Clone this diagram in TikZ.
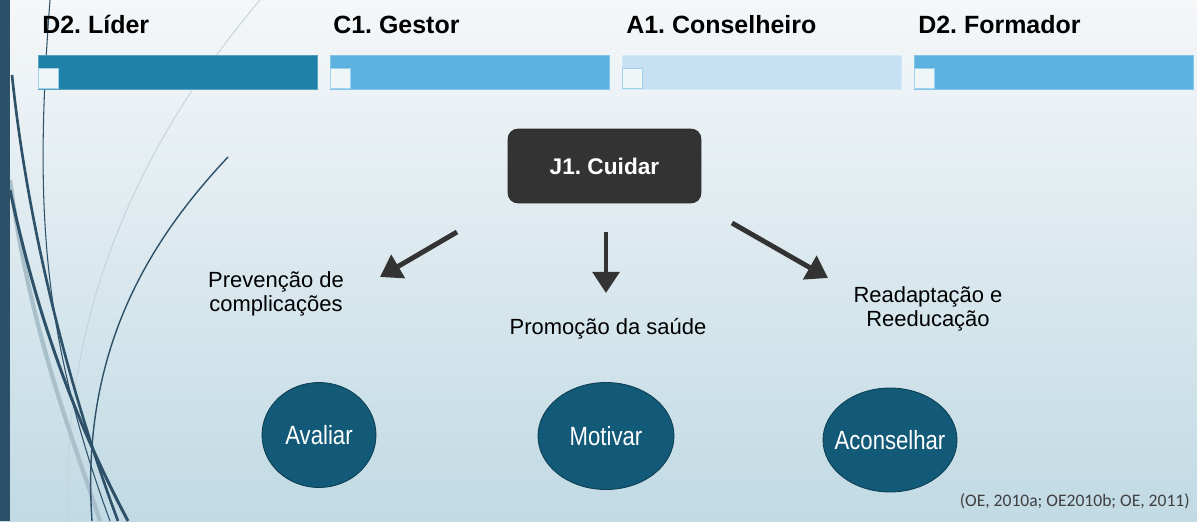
\documentclass[tikz,border=0pt]{standalone}
\usepackage{fontspec}
\setmainfont{Liberation Sans}
\newfontfamily\citefont{Carlito}
\usetikzlibrary{arrows.meta,shapes.geometric}

\definecolor{bgtop}{HTML}{F5F7F9}
\definecolor{bgbot}{HTML}{C1DAE4}
\definecolor{sidebar}{HTML}{2C5068}
\definecolor{barA}{HTML}{1F80A8}
\definecolor{barB}{HTML}{5DB2DF}
\definecolor{barC}{HTML}{C6E0F3}
\definecolor{boxgrey}{HTML}{333333}
\definecolor{circfill}{HTML}{125A78}
\definecolor{curvedark}{HTML}{2D5168}
\definecolor{curvelight}{HTML}{A9BFCA}

\newcommand{\skilltext}[1]{\makebox[0pt]{\scalebox{0.84}[1]{#1}}}

\tikzset{
  head/.style={anchor=base west, inner sep=0pt, font=\fontsize{14.2}{17}\selectfont\bfseries},
  bar/.style={draw=#1!75!white, fill=#1, line width=0.4pt},
  tickbox/.style={draw=barB!60!white, fill=bgtop!90!barC, line width=0.5pt},
  txt/.style={align=center, inner sep=0pt, font=\fontsize{12.5}{13.6}\selectfont},
  skill/.style={ellipse, draw=circfill!70!black, fill=circfill, text=white, inner sep=0pt, line width=0.5pt, font=\fontsize{15}{17}\selectfont},
  arr/.style={-{Triangle[length=12pt,width=15pt]}, line width=2.8pt, draw=boxgrey},
}

\begin{document}
\frenchspacing
\begin{tikzpicture}[x=0.02cm, y=-0.02cm]
        \useasboundingbox (0,0) rectangle (1197,521);
        % background
        \shade[top color=bgtop, bottom color=bgbot] (0,0) rectangle (1197,521);

        % side curves
        \begin{scope}
        \clip (0,0) rectangle (1197,521);
        \draw[curvelight!70!white, line width=0.5pt] (260,0) .. controls (150,130) and (60,300) .. (68,521);
        \draw[curvelight, line width=2.4pt] (10,180) .. controls (30,330) and (70,430) .. (100,521);
        \draw[curvedark, line width=0.6pt] (50,0) .. controls (35,200) and (40,330) .. (110,521);
        \draw[curvedark, line width=1.5pt] (12,75) .. controls (30,250) and (80,420) .. (118,521);
        \draw[curvedark, line width=1.7pt] (10,190) .. controls (40,330) and (80,430) .. (128,521);
        \draw[curvedark, line width=0.8pt] (228,157) .. controls (150,240) and (80,350) .. (92,521);
        \end{scope}
        \fill[sidebar] (0,0) rectangle (10,521);

        % top bars
        \draw[bar=barA] (38,55) rectangle (317,89);
        \draw[bar=barB] (330,55) rectangle (609,89);
        \draw[bar=barC] (622,55) rectangle (901,89);
        \draw[bar=barB] (914,55) rectangle (1193,89);
        \draw[tickbox] (38,68) rectangle (58,88);
        \draw[tickbox] (330,68) rectangle (350,88);
        \draw[tickbox] (622,68) rectangle (642,88);
        \draw[tickbox] (914,68) rectangle (934,88);

        % roles
        \node[head] (lider) at (42,33) {D2. Líder};
        \node[head] (gestor) at (333,33) {C1. Gestor};
        \node[head] (conselheiro) at (626,33) {A1. Conselheiro};
        \node[head] (formador) at (918,33) {D2. Formador};

        % main box
        \node[draw=boxgrey!80!black, fill=boxgrey, rounded corners=0.2cm, minimum width=3.86cm, minimum height=1.48cm,
              text=white, font=\fontsize{12.9}{15}\selectfont\bfseries] (cuidar) at (604.5,166) {J1. Cuidar};

        % arrows
        \coordinate (lstart) at (457,232);
        \coordinate (lend) at (380,277);
        \coordinate (mstart) at (606,232);
        \coordinate (mend) at (606,293);
        \coordinate (rstart) at (732,223);
        \coordinate (rend) at (828,278);
        \draw[arr] (lstart) -- (lend);
        \draw[arr] (mstart) -- (mend);
        \draw[arr] (rstart) -- (rend);

        % aims
        \node[txt] (prevencao) at (276,294) {Prevenção de\\complicações};
        \node[txt] (promocao) at (608,329) {Promoção da saúde};
        \node[txt] (readaptacao) at (928,309) {Readaptação e\\Reeducação};

        % actions
        \node[skill, minimum width=2.28cm, minimum height=2.1cm] (avaliar) at (319,435) {\skilltext{Avaliar}};
        \node[skill, minimum width=2.72cm, minimum height=2.14cm] (motivar) at (606,436) {\skilltext{Motivar}};
        \node[skill, minimum width=2.68cm, minimum height=2.08cm] (aconselhar) at (890,440) {\skilltext{Aconselhar}};

        % source
        \node[anchor=east, inner sep=0pt, text=black!75, font=\citefont\fontsize{10}{12}\selectfont] (fonte) at (1190,501) {(OE, 2010a; OE2010b; OE, 2011)};
\end{tikzpicture}
\end{document}
